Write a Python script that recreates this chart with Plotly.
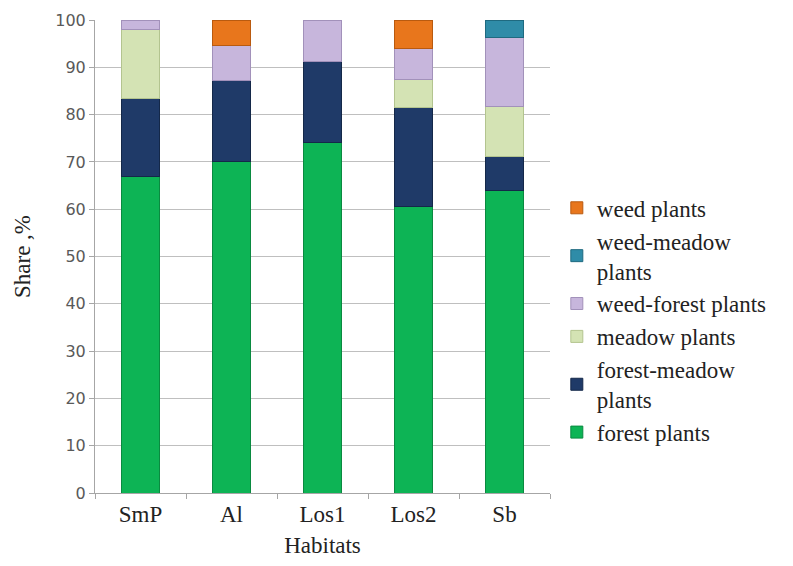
import plotly.graph_objects as go

habitats = ["SmP", "Al", "Los1", "Los2", "Sb"]

forest = [67.0, 70.0, 74.0, 60.5, 64.0]
forest_meadow = [16.5, 17.3, 17.3, 21.1, 7.2]
meadow = [14.5, 0.0, 0.0, 5.9, 10.6]
weed_forest = [2.0, 7.4, 8.7, 6.4, 14.4]
weed_meadow = [0.0, 0.0, 0.0, 0.0, 3.8]
weed = [0.0, 5.3, 0.0, 6.1, 0.0]

series = [
    ("forest plants", forest, "#0DB455", "#0A8A40"),
    ("forest-meadow<br>plants", forest_meadow, "#1F3A68", "#142849"),
    ("meadow plants", meadow, "#D4E3B4", "#B3C48F"),
    ("weed-forest plants", weed_forest, "#C7B6DC", "#A291BA"),
    ("weed-meadow<br>plants", weed_meadow, "#2F8CA8", "#1F6A80"),
    ("weed plants", weed, "#E8761C", "#B95A0F"),
]

fig = go.Figure()
for name, vals, col, edge in series:
    # empty segments are skipped so they leave no outline
    fig.add_trace(go.Bar(
        x=habitats, y=[v if v > 0 else None for v in vals], name=name,
        marker=dict(color=col, line=dict(color=edge, width=1)),
    ))

serif = "Liberation Serif, Times New Roman, serif"
ink = "#222222"

fig.update_layout(
    width=793, height=566,
    barmode="stack", bargap=0.59,
    plot_bgcolor="white", paper_bgcolor="white",
    margin=dict(l=95, r=243, t=20, b=73),
    showlegend=True,
    legend=dict(
        traceorder="reversed",
        x=1.015, xanchor="left", y=0.365, yanchor="middle",
        font=dict(family=serif, size=23, color=ink),
        itemwidth=30, tracegroupgap=0,
        bgcolor="rgba(0,0,0,0)",
    ),
    xaxis=dict(
        title=dict(text="Habitats", font=dict(family=serif, size=23, color=ink), standoff=11),
        tickfont=dict(family=serif, size=23, color=ink),
        showline=True, linecolor="#A6A6A6", linewidth=1,
        ticks="outside", tickson="boundaries", ticklen=5, tickcolor="#A6A6A6",
        showgrid=False,
    ),
    yaxis=dict(
        title=dict(text="Share ,%", font=dict(family=serif, size=23, color=ink), standoff=18),
        range=[0, 100], dtick=10,
        tickfont=dict(family="DejaVu Sans, Verdana, sans-serif", size=16, color="#595959"),
        showline=True, linecolor="#A6A6A6", linewidth=1,
        ticks="outside", ticklen=5, tickcolor="#A6A6A6",
        showgrid=True, gridcolor="#BFBFBF", gridwidth=1,
        zeroline=False,
    ),
)

fig.write_html("out.html")
